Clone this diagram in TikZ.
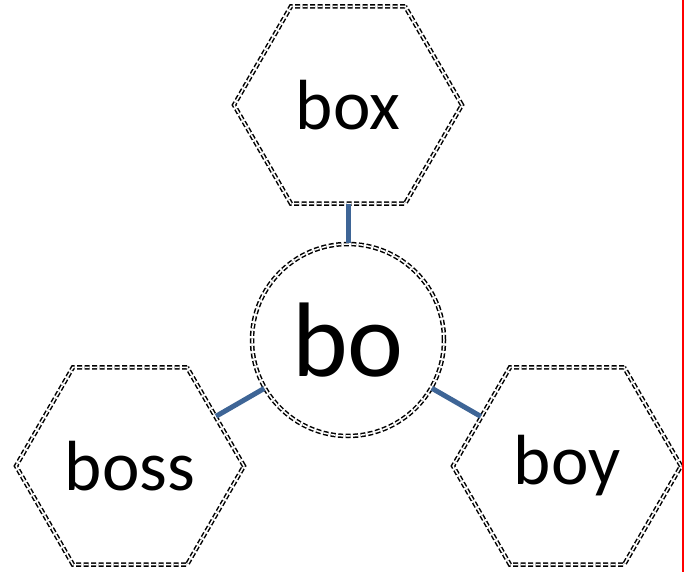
\documentclass[tikz,border=0pt]{standalone}
\usepackage{fontspec}
\setmainfont{Carlito}
\usepackage{xcolor}
\usetikzlibrary{shapes.geometric}
\definecolor{linkblue}{RGB}{62,101,150}
\definecolor{edgered}{RGB}{255,0,0}

\begin{document}
\begin{tikzpicture}[x=1pt,y=-1pt]
    % Define styles
    \tikzstyle{word} = [regular polygon, regular polygon sides=6, draw, double=white, double distance=1.5pt, line width=1.5pt, dash pattern=on 5pt off 2.5pt, minimum size=228pt, inner sep=0pt, font=\fontsize{71}{84}\selectfont]
    \tikzstyle{stem} = [circle, draw, double=white, double distance=1.5pt, line width=1.5pt, dash pattern=on 5pt off 2.5pt, minimum size=192pt, inner sep=0pt, font=\fontsize{106}{120}\selectfont]
    \tikzstyle{link} = [linkblue, line width=5pt]

    \useasboundingbox (0,0) rectangle (690,572);

    % Words
    \node (box) [word] at (348,105) {box};
    \node (boss) [word] at (130,466) {boss};
    \node (boy) [word] at (567,466) {boy};

    % Stem
    \node (bo) [stem] at (348,340) {bo};

    % Links
    \draw [link] (bo) -- (box);
    \draw [link] (bo) -- (boss);
    \draw [link] (bo) -- (boy);

    % Margin
    \draw [edgered, line width=2pt] (683,0) -- (683,572);
\end{tikzpicture}
\end{document}
